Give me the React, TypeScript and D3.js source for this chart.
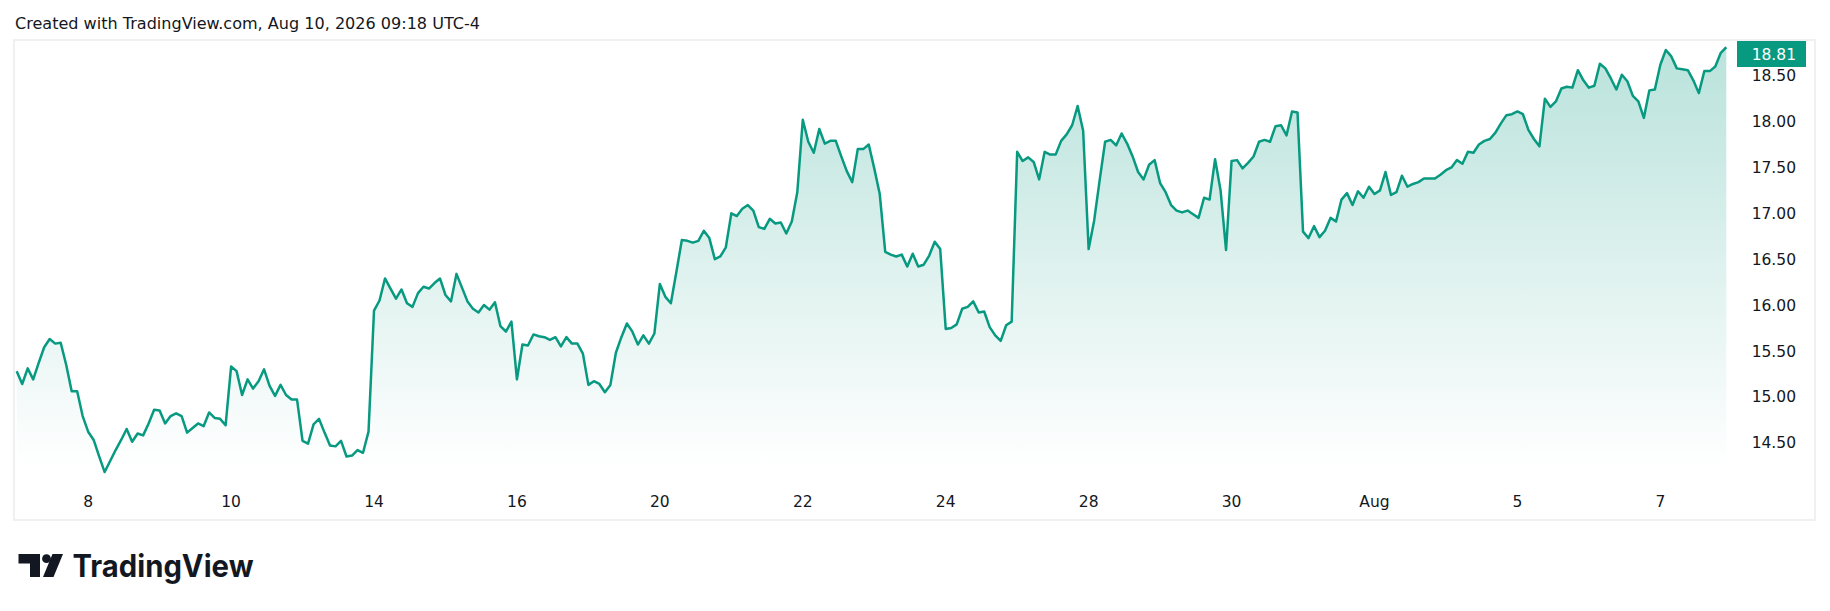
import React, { useEffect, useRef } from 'react';
import * as d3 from 'd3';

// 30-minute closes, 13 bars per session
const week1 = [
  15.28, 15.14, 15.31, 15.19, 15.37, 15.54, 15.63, 15.58, 15.59, 15.35, 15.06, 15.06, 14.79,
  14.62, 14.53, 14.35, 14.18, 14.30, 14.42, 14.53, 14.65, 14.51, 14.60, 14.58, 14.71, 14.86,
  14.85, 14.71, 14.79, 14.82, 14.79, 14.61, 14.66, 14.71, 14.68, 14.83, 14.77, 14.76, 14.69,
  15.33, 15.28, 15.02, 15.19, 15.09, 15.17, 15.30, 15.12, 15.01, 15.13, 15.02, 14.97, 14.97,
];
const week2 = [
  14.52, 14.49, 14.70, 14.76, 14.61, 14.47, 14.46, 14.52, 14.35, 14.36, 14.42, 14.39, 14.62,
  15.94, 16.05, 16.29, 16.18, 16.07, 16.17, 16.02, 15.98, 16.13, 16.20, 16.18, 16.24, 16.29,
  16.11, 16.04, 16.34, 16.19, 16.04, 15.96, 15.92, 16.00, 15.95, 16.03, 15.77, 15.71, 15.82,
  15.19, 15.57, 15.56, 15.68, 15.66, 15.65, 15.62, 15.65, 15.55, 15.65, 15.58, 15.58, 15.47,
  15.13, 15.17, 15.14, 15.05, 15.13, 15.48, 15.65, 15.80, 15.71, 15.57, 15.67, 15.58, 15.69,
];
const week3 = [
  16.23, 16.09, 16.02, 16.36, 16.71, 16.70, 16.68, 16.70, 16.81, 16.73, 16.50, 16.53, 16.63,
  17.00, 16.97, 17.05, 17.09, 17.03, 16.85, 16.83, 16.94, 16.89, 16.90, 16.78, 16.91, 17.23,
  18.02, 17.78, 17.66, 17.92, 17.76, 17.79, 17.79, 17.62, 17.46, 17.34, 17.70, 17.70, 17.75,
  17.49, 17.21, 16.58, 16.55, 16.53, 16.55, 16.42, 16.56, 16.42, 16.44, 16.54, 16.69, 16.61,
  15.74, 15.75, 15.79, 15.96, 15.98, 16.04, 15.92, 15.93, 15.76, 15.67, 15.61, 15.78, 15.82,
];
const week4 = [
  17.67, 17.57, 17.61, 17.56, 17.37, 17.67, 17.64, 17.64, 17.79, 17.86, 17.96, 18.17, 17.90,
  16.61, 16.92, 17.36, 17.78, 17.80, 17.74, 17.87, 17.76, 17.62, 17.45, 17.37, 17.53, 17.58,
  17.33, 17.23, 17.09, 17.03, 17.01, 17.03, 16.99, 16.95, 17.17, 17.15, 17.59, 17.25, 16.60,
  17.57, 17.58, 17.49, 17.55, 17.62, 17.78, 17.80, 17.78, 17.95, 17.96, 17.85, 18.11, 18.10,
  16.80, 16.73, 16.86, 16.74, 16.81, 16.95, 16.91, 17.15, 17.22, 17.09, 17.24, 17.17, 17.29,
];
const week5 = [
  17.21, 17.25, 17.45, 17.20, 17.23, 17.41, 17.29, 17.32, 17.34, 17.38, 17.38, 17.38, 17.42,
  17.47, 17.50, 17.58, 17.54, 17.67, 17.66, 17.75, 17.79, 17.81, 17.88, 17.98, 18.07, 18.08,
  18.11, 18.08, 17.91, 17.81, 17.73, 18.25, 18.16, 18.22, 18.36, 18.38, 18.37, 18.56, 18.45,
  18.37, 18.39, 18.63, 18.58, 18.47, 18.35, 18.51, 18.44, 18.28, 18.22, 18.04, 18.34, 18.35,
  18.62, 18.78, 18.71, 18.58, 18.57, 18.56, 18.45, 18.31, 18.55, 18.55, 18.60, 18.75, 18.81,
];

const timeLabels = ['8', '10', '14', '16', '20', '22', '24', '28', '30', 'Aug', '5', '7'];
const timeLabelBars = [13, 39, 65, 91, 117, 143, 169, 195, 221, 247, 273, 299];
const priceTicks = [14.5, 15.0, 15.5, 16.0, 16.5, 17.0, 17.5, 18.0, 18.5];

const title = 'Created with TradingView.com, Aug 10, 2026 09:18 UTC-4';
const lastPrice = 18.81;

const W = 1830;
const H = 611;
const green = '#089981';
const textColor = '#131722';
const axisFont = '"DejaVu Sans", Verdana, sans-serif';

export default function App() {
  const svgRef = useRef<SVGSVGElement>(null);

  useEffect(() => {
    if (!svgRef.current) return;
    const svg = d3.select(svgRef.current);
    svg.selectAll('*').remove();

    const closes = [...week1, ...week2, ...week3, ...week4, ...week5];
    const paneBottom = 467;

    const x = d3.scaleLinear().domain([0, closes.length - 1]).range([16.7, 1726.3]);
    const y = d3.scaleLinear().domain([14.5, 18.5]).range([442.7, 75.7]);

    svg.append('rect').attr('width', W).attr('height', H).attr('fill', '#ffffff');

    // header text
    svg.append('text')
      .attr('x', 15)
      .attr('y', 29)
      .attr('font-family', axisFont)
      .attr('font-size', 16)
      .attr('textLength', 465)
      .attr('lengthAdjust', 'spacingAndGlyphs')
      .attr('fill', textColor)
      .text(title);

    // frame
    svg.append('rect')
      .attr('x', 14)
      .attr('y', 40)
      .attr('width', 1801)
      .attr('height', 480)
      .attr('fill', 'none')
      .attr('stroke', '#f0f0f0')
      .attr('stroke-width', 2);

    const defs = svg.append('defs');
    const grad = defs.append('linearGradient')
      .attr('id', 'areaFill')
      .attr('gradientUnits', 'userSpaceOnUse')
      .attr('x1', 0).attr('x2', 0)
      .attr('y1', y(d3.max(closes) as number))
      .attr('y2', paneBottom);
    grad.append('stop').attr('offset', 0).attr('stop-color', green).attr('stop-opacity', 0.28);
    grad.append('stop').attr('offset', 1).attr('stop-color', green).attr('stop-opacity', 0);

    const area = d3.area<number>()
      .x((_, i) => x(i))
      .y0(paneBottom)
      .y1(d => y(d));
    svg.append('path').datum(closes).attr('d', area).attr('fill', 'url(#areaFill)');

    const line = d3.line<number>()
      .x((_, i) => x(i))
      .y(d => y(d));
    svg.append('path')
      .datum(closes)
      .attr('d', line)
      .attr('fill', 'none')
      .attr('stroke', green)
      .attr('stroke-width', 2.5)
      .attr('stroke-linejoin', 'round');

    // price scale
    svg.append('g')
      .selectAll('text')
      .data(priceTicks)
      .enter()
      .append('text')
      .attr('x', 1796)
      .attr('y', d => y(d))
      .attr('dy', '0.36em')
      .attr('text-anchor', 'end')
      .attr('font-family', axisFont)
      .attr('font-size', 15.5)
      .attr('fill', textColor)
      .text(d => d.toFixed(2));

    // last price badge
    svg.append('rect')
      .attr('x', 1737)
      .attr('y', 41)
      .attr('width', 69)
      .attr('height', 26)
      .attr('fill', green);
    svg.append('text')
      .attr('x', 1796)
      .attr('y', 54)
      .attr('dy', '0.36em')
      .attr('text-anchor', 'end')
      .attr('font-family', axisFont)
      .attr('font-size', 15.5)
      .attr('fill', '#ffffff')
      .text(lastPrice.toFixed(2));

    // time scale
    svg.append('g')
      .selectAll('text')
      .data(timeLabels)
      .enter()
      .append('text')
      .attr('x', (_, i) => x(timeLabelBars[i]))
      .attr('y', 501)
      .attr('dy', '0.36em')
      .attr('text-anchor', 'middle')
      .attr('font-family', axisFont)
      .attr('font-size', 15.5)
      .attr('fill', textColor)
      .text(d => d);

    // logo
    const logo = svg.append('g').attr('fill', '#131722');
    logo.append('path').attr('d', 'M18.5,554 H40 V577 H30 V563.5 H18.5 Z');
    logo.append('circle').attr('cx', 46.5).attr('cy', 558.7).attr('r', 4.4);
    logo.append('path').attr('d', 'M52.5,554 H63 L53.5,577 H43 Z');
    logo.append('text')
      .attr('x', 72.5)
      .attr('y', 577.3)
      .attr('font-family', 'Inter, Roboto, sans-serif')
      .attr('font-weight', 700)
      .attr('font-size', 31)
      .attr('textLength', 181)
      .attr('lengthAdjust', 'spacingAndGlyphs')
      .attr('fill', '#131722')
      .text('TradingView');
  }, []);

  return (
    <svg
      ref={svgRef}
      width={W}
      height={H}
      style={{ position: 'absolute', left: 0, top: 0, display: 'block' }}
    />
  );
}
